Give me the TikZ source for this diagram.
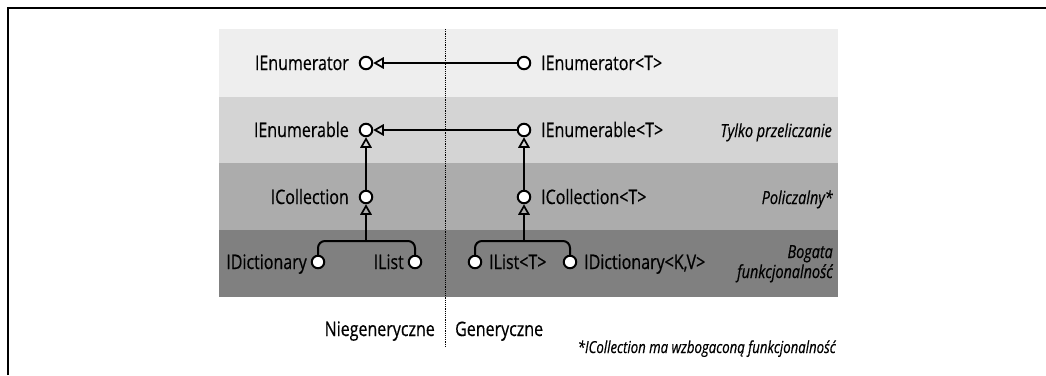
\documentclass[tikz,border=0pt]{standalone}
\usepackage{fontspec}
\setmainfont{Open Sans}[FakeStretch=0.8,FakeBold=0.5]
\usetikzlibrary{arrows.meta}
\definecolor{bandA}{gray}{0.935}
\definecolor{bandB}{gray}{0.83}
\definecolor{bandC}{gray}{0.675}
\definecolor{bandD}{gray}{0.5}
\tikzset{
  iface/.style={circle,draw=black,fill=white,line width=2pt,minimum size=12.5pt,inner sep=0pt},
  conn/.style={line width=2pt,draw=black},
  inh/.style={conn,-{Triangle[open,length=10.5pt,width=11.5pt,line width=1.7pt]}},
  lbl/.style={font=\fontsize{20}{23}\selectfont,inner sep=0pt},
  side/.style={font=\fontsize{18}{20}\selectfont\itshape,inner sep=0pt},
}
\begin{document}
\begin{tikzpicture}[x=1pt,y=-1pt]
\useasboundingbox (0,0) rectangle (1046,375);
% frame
\draw[line width=2pt] (7.5,375) -- (7.5,7.5) -- (1046,7.5);
% bands
\fill[bandA] (219,29) rectangle (838,97);
\fill[bandB] (219,97) rectangle (838,163);
\fill[bandC] (219,163) rectangle (838,230);
\fill[bandD] (219,230) rectangle (838,297);
% divider
\draw[line width=1.7pt,dash pattern=on 1.2pt off 1pt] (445.5,29) -- (445.5,346);
% interface circles
\node[iface] (enL) at (366,63) {};
\node[iface] (enR) at (524,63) {};
\node[iface] (ebL) at (366,130) {};
\node[iface] (ebR) at (524,130) {};
\node[iface] (coL) at (366,197) {};
\node[iface] (coR) at (524,197) {};
\node[iface] (diL) at (318,262) {};
\node[iface] (liL) at (415,262) {};
\node[iface] (liR) at (475,262) {};
\node[iface] (diR) at (570,262) {};
\coordinate (jL) at (366,241);
\coordinate (jR) at (524,241);
% connectors
\draw[inh] (enR) -- (enL);
\draw[inh] (ebR) -- (ebL);
\draw[inh] (coL) -- (ebL);
\draw[inh] (coR) -- (ebR);
\draw[inh] (jL) -- (coL);
\draw[inh] (jR) -- (coR);
\draw[conn,rounded corners=7pt] (diL) |- (jL) -| (liL);
\draw[conn,rounded corners=7pt] (liR) |- (jR) -| (diR);
% labels
\node[lbl,anchor=base east] (tEnL) at (349,70) {IEnumerator};
\node[lbl,anchor=base west] (tEnR) at (541,70) {IEnumerator<T>};
\node[lbl,anchor=base east] (tEbL) at (349,137) {IEnumerable};
\node[lbl,anchor=base west] (tEbR) at (541,137) {IEnumerable<T>};
\node[lbl,anchor=base east] (tCoL) at (349,204) {ICollection};
\node[lbl,anchor=base west] (tCoR) at (541,204) {ICollection<T>};
\node[lbl,anchor=base east] (tDiL) at (307,269) {IDictionary};
\node[lbl,anchor=base east] (tLiL) at (404,269) {IList};
\node[lbl,anchor=base west] (tLiR) at (489,269) {IList<T>};
\node[lbl,anchor=base west] (tDiR) at (584,269) {IDictionary<K,V>};
\node[side,anchor=base east] (sA) at (832,137) {Tylko przeliczanie};
\node[side,anchor=base east] (sB) at (833,204) {Policzalny*};
\node[side,anchor=base east] (sC1) at (833,258) {Bogata};
\node[side,anchor=base east] (sC2) at (833,278) {funkcjonalność};
\node[lbl,anchor=base east] (nonGen) at (435,336) {Niegeneryczne};
\node[lbl,anchor=base west] (gen) at (455,336) {Generyczne};
\node[font=\fontsize{16.5}{18}\selectfont\itshape,inner sep=0pt,anchor=base east] (note) at (836,353) {*ICollection ma wzbogaconą funkcjonalność};
\end{tikzpicture}
\end{document}
